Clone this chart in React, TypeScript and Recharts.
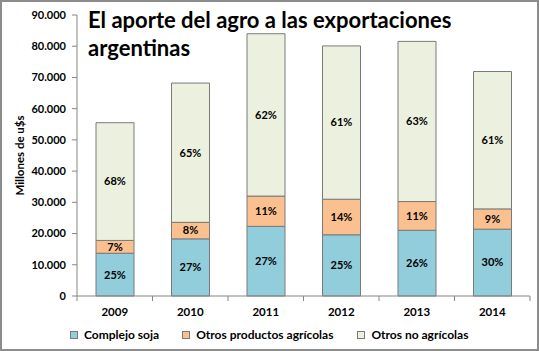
import React from "react";
import { BarChart, Bar, XAxis, YAxis, Legend, LabelList } from "recharts";

const years = ["2009", "2010", "2011", "2012", "2013", "2014"];
// millones de u$s
const soja = [13700, 18300, 22300, 19600, 21050, 21400];
const otrosAgr = [4100, 5300, 9700, 11400, 9200, 6500];
const noAgr = [37700, 44600, 52000, 49100, 51300, 44000];
// percent labels as printed
const sojaPct = [25, 27, 27, 25, 26, 30];
const otrosAgrPct = [7, 8, 11, 14, 11, 9];
const noAgrPct = [68, 65, 62, 61, 63, 61];
const yTicks = [0, 10000, 20000, 30000, 40000, 50000, 60000, 70000, 80000, 90000];

const FONT = "Lato, 'Open Sans', sans-serif";
const AXIS = "#868686";
const STROKE = "#7a7a7a";

const series = [
  { key: "soja", name: "Complejo soja", color: "#92CDDC" },
  { key: "otrosAgr", name: "Otros productos agrícolas", color: "#FAC090" },
  { key: "noAgr", name: "Otros no agrícolas", color: "#EBF1DE" },
];

const data = years.map((y, i) => ({
  year: y,
  soja: soja[i],
  otrosAgr: otrosAgr[i],
  noAgr: noAgr[i],
  sojaPct: sojaPct[i],
  otrosAgrPct: otrosAgrPct[i],
  noAgrPct: noAgrPct[i],
}));

const fmt = (v: number) => v.toLocaleString("de-DE");

function XTick(props: any) {
  const { x, y, payload, index } = props;
  const off = payload.offset ?? 0;
  const top = y - 8;
  return (
    <g>
      <line x1={x - off} y1={top} x2={x - off} y2={top + 5} stroke={AXIS} />
      {index === years.length - 1 && (
        <line x1={x + off} y1={top} x2={x + off} y2={top + 5} stroke={AXIS} />
      )}
      <text x={x} y={y + 12} textAnchor="middle" fontSize={11.5} fontWeight="bold" fill="#000" fontFamily={FONT}>
        {payload.value}
      </text>
    </g>
  );
}

function YLabel(props: any) {
  const vb = props.viewBox || {};
  const cx = vb.x + 11;
  const cy = vb.y + vb.height / 2;
  return (
    <text x={cx} y={cy} transform={`rotate(-90 ${cx} ${cy})`} textAnchor="middle" dominantBaseline="central"
      fontSize={11.5} fontWeight="bold" fontFamily={FONT} fill="#000">
      Millones de u$s
    </text>
  );
}

function LegendBox() {
  return (
    <div style={{ display: "flex", paddingLeft: 62, paddingTop: 6, fontFamily: FONT, fontSize: 12, fontWeight: "bold", color: "#000" }}>
      {series.map((s, i) => (
        <div key={s.key} style={{ display: "flex", alignItems: "center", marginRight: i === 0 ? 23 : 24 }}>
          <span style={{ width: 6, height: 6, background: s.color, border: `1px solid ${STROKE}`, marginRight: 6 }} />
          {s.name}
        </div>
      ))}
    </div>
  );
}

export default function App() {
  return (
    <div style={{ position: "fixed", left: 0, top: 0, width: 539, height: 351, boxSizing: "border-box", border: "2px solid #8c8c8c", background: "#fff" }}>
      <div style={{ position: "absolute", left: 86, top: 4, fontFamily: FONT, fontWeight: "bold", fontSize: 22, lineHeight: "28px", color: "#000", zIndex: 2 }}>
        El aporte del agro a las exportaciones
        <br />
        argentinas
      </div>
      <div style={{ position: "absolute", left: -2, top: -2 }}>
        <BarChart width={539} height={351} data={data} margin={{ top: 15, right: 9, left: 8, bottom: 5 }}>
          <XAxis dataKey="year" stroke={AXIS} tickLine={false} tick={<XTick />} height={25} interval={0} />
          <YAxis
            domain={[0, 90000]}
            ticks={yTicks}
            tickFormatter={fmt}
            width={69}
            stroke={AXIS}
            tickSize={5}
            tickMargin={6}
            tick={{ fontSize: 11, fontWeight: "bold", fill: "#000", fontFamily: FONT }}
            label={<YLabel />}
          />
          <Legend verticalAlign="bottom" height={25} content={<LegendBox />} />
          {series.map((s) => (
            <Bar key={s.key} dataKey={s.key} name={s.name} stackId="a" fill={s.color} stroke={STROKE} strokeWidth={1} barSize={38} isAnimationActive={false}>
              <LabelList dataKey={`${s.key}Pct`} position="center" formatter={(v: any) => `${v}%`}
                style={{ fontSize: 11, fontWeight: "bold", fill: "#000", fontFamily: FONT }} />
            </Bar>
          ))}
        </BarChart>
      </div>
    </div>
  );
}
